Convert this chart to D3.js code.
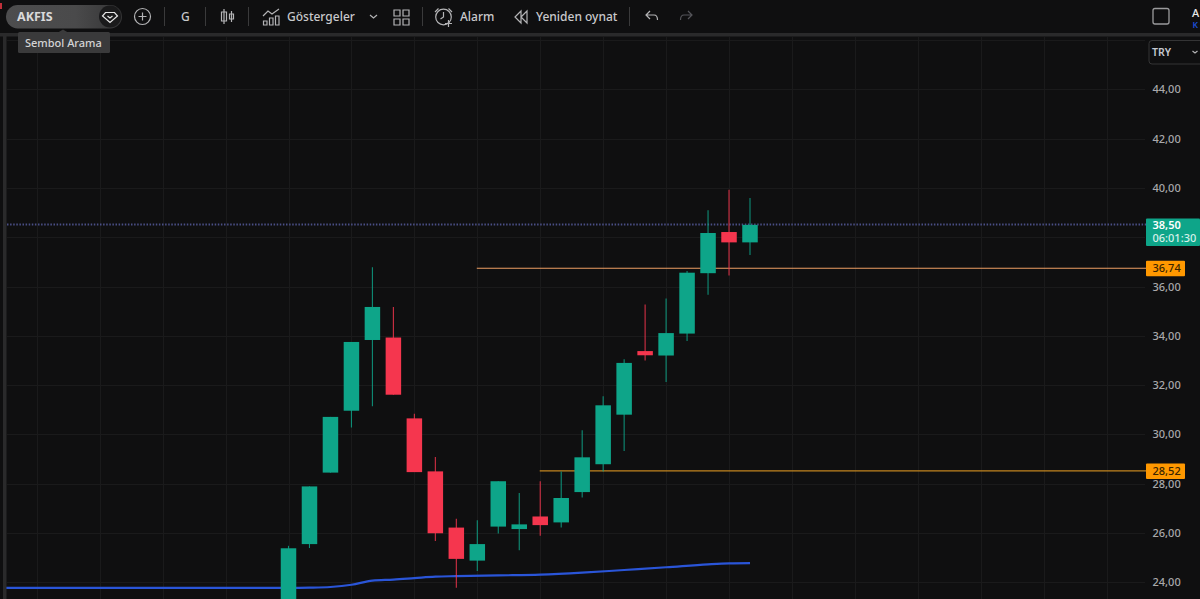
<!DOCTYPE html>
<html><head><meta charset="utf-8">
<script src="https://cdnjs.cloudflare.com/ajax/libs/d3/7.8.5/d3.min.js"></script>
<style>
html,body{margin:0;padding:0;background:#0f0f10;overflow:hidden}
svg{display:block}
text{font-family:"Noto Sans",sans-serif}
</style></head><body><svg id="c" width="1200" height="599"></svg>
<script>
const opens  =[23.00,25.55,28.45,30.96,33.83,33.93,30.65,28.50,26.22,24.88,26.26,26.16,26.67,26.43,27.66,28.79,30.80,33.38,33.20,34.09,36.54,38.21,37.79];
const closes =[25.38,27.89,30.71,33.75,35.17,31.61,28.47,25.99,24.95,25.55,28.10,26.35,26.32,27.42,29.07,31.18,32.90,33.21,34.11,36.56,38.17,37.79,38.50];
const highs  =[25.48,27.89,30.71,33.75,36.78,35.17,30.84,29.08,26.58,26.52,28.10,27.62,28.10,28.50,30.17,31.55,33.05,35.27,35.51,36.63,39.09,39.93,39.59];
const lows   =[22.90,25.39,28.45,30.28,31.14,31.61,28.47,25.68,23.78,24.46,25.98,25.30,25.89,26.22,27.44,28.50,29.33,33.00,32.13,33.79,35.67,36.45,37.28];
const maIndex=[-13.5,-10,-6,-2,0,1,2,3,4,5,6,7,8,10,12,14,16,18,20,21,22];
const maValues=[23.77,23.77,23.77,23.77,23.77,23.78,23.81,23.90,24.07,24.11,24.17,24.23,24.25,24.28,24.31,24.39,24.50,24.61,24.73,24.77,24.78];
const gridPrices=[46,44,42,40,38,36,34,32,30,28,26,24];
const axisPrices=[44,42,40,36,34,32,30,28,26,24];
const gridIndex=[-12,-9,-6,-3,0,3,6,9,12,15,18,21,24,27,30,33,36,39];
const levels=[{price:36.74,start:9,label:"36,74",color:"#ee9f63"},{price:28.52,start:12,label:"28,52",color:"#c2851f"}];
const lastPrice=38.50, lastLabel="38,50", countdown="06:01:30";
const menuItems=[["G",181],["Göstergeler",287],["Alarm",460],["Yeniden oynat",536]];

const UP="#0ea589",DOWN="#f5364e",TXT="#c9c9cc";
const svg=d3.select("#c");
const x=d3.scaleLinear().domain([0,22]).range([288.5,750]);
const y=d3.scaleLinear().domain([24,44]).range([582.3,89.3]);
const bw=15.5;
svg.append("rect").attr("width",1200).attr("height",599).attr("fill","#0f0f10");

// grid
const plot=svg.append("g");
plot.selectAll(".h").data(gridPrices).join("line").attr("x1",7).attr("x2",1145)
 .attr("y1",d=>Math.round(y(d))+.5).attr("y2",d=>Math.round(y(d))+.5).attr("stroke","#1a1a1b");
plot.selectAll(".v").data(gridIndex).join("line").attr("y1",37).attr("y2",599)
 .attr("x1",d=>Math.round(x(d))+.5).attr("x2",d=>Math.round(x(d))+.5).attr("stroke","#1a1a1b");

// last price dotted
plot.append("line").attr("x1",7).attr("x2",1146).attr("y1",y(lastPrice)-.3).attr("y2",y(lastPrice)-.3)
 .attr("stroke","#4a4f86").attr("stroke-width",2).attr("stroke-dasharray","1.5 1.6");

// levels
plot.selectAll(".lv").data(levels).join("line").attr("x1",d=>x(d.start)-.5).attr("x2",1146)
 .attr("y1",d=>y(d.price)).attr("y2",d=>y(d.price)).attr("stroke",d=>d.color).attr("stroke-width",1.2);

// moving average
const maPts=maIndex.map((d,i)=>[x(d),y(maValues[i])]);
const line=d3.line().curve(d3.curveMonotoneX);

// candles
const candles=opens.map((o,i)=>({i,o,c:closes[i],h:highs[i],l:lows[i]}));
const g=plot.selectAll(".cd").data(candles).join("g");
const col=d=>d.c>=d.o?UP:DOWN;
g.append("line").attr("x1",d=>x(d.i)).attr("x2",d=>x(d.i)).attr("y1",d=>y(d.h)).attr("y2",d=>y(d.l))
 .attr("stroke",col).attr("stroke-width",1.1).attr("opacity",.85);
g.append("rect").attr("x",d=>x(d.i)-bw/2).attr("width",bw)
 .attr("y",d=>y(Math.max(d.o,d.c))).attr("height",d=>Math.abs(y(d.o)-y(d.c))).attr("fill",col);
plot.insert("path","g").attr("d",line(maPts)).attr("fill","none").attr("stroke","#2a55d8").attr("stroke-width",2.2);

// right axis
const axis=d3.axisRight(y).tickValues(axisPrices).tickSize(0).tickPadding(0)
 .tickFormat(d=>d3.format(".2f")(d).replace(".",","));
const ag=svg.append("g").attr("transform","translate(1152.5,0)").call(axis);
ag.select(".domain").remove();
ag.selectAll("text").attr("fill","#a9a9ab").attr("font-size",11).attr("font-family","'Noto Sans',sans-serif").attr("font-weight",500);

// price labels
const lab=svg.append("g");
lab.append("rect").attr("x",1146).attr("y",y(lastPrice)-6.5).attr("width",54).attr("height",27.5).attr("fill",UP).attr("rx",1);
lab.append("text").attr("x",1152.5).attr("y",y(lastPrice)+4.5).attr("fill","#fff").attr("font-size",11).attr("font-weight",600).text(lastLabel);
lab.append("text").attr("x",1152.5).attr("y",y(lastPrice)+17.5).attr("fill","#d6f0ea").attr("font-size",11).attr("font-weight",500).text(countdown);
levels.forEach(l=>{
 lab.append("rect").attr("x",1146).attr("y",y(l.price)-7.5).attr("width",39).attr("height",15.5).attr("fill","#ff9800").attr("rx",1);
 lab.append("text").attr("x",1152.5).attr("y",y(l.price)+4).attr("fill","#3a2500").attr("font-size",11).attr("font-weight",500).text(l.label);
});

// chrome
const ch=svg.append("g");
ch.append("rect").attr("width",1200).attr("height",33).attr("fill","#0f0f10");
ch.append("rect").attr("y",33).attr("width",1200).attr("height",3.5).attr("fill","#2a2a2b");
ch.append("rect").attr("x",3).attr("y",36).attr("width",3.5).attr("height",563).attr("fill","#2a2a2b");
ch.append("rect").attr("x",0).attr("y",3).attr("width",2).attr("height",6).attr("fill","#c0303a");
const defs=svg.append("defs");
const gr=defs.append("linearGradient").attr("id","pill");
gr.append("stop").attr("offset","0").attr("stop-color","#4d4d4e");
gr.append("stop").attr("offset","0.6").attr("stop-color","#4a4a4b");
gr.append("stop").attr("offset","1").attr("stop-color","#343435");
ch.append("rect").attr("x",6).attr("y",5).attr("width",116).attr("height",23.5).attr("rx",11.7).attr("fill","url(#pill)");
ch.append("circle").attr("cx",110).attr("cy",16.5).attr("r",11).attr("fill","#1a1a1b");
ch.append("text").attr("x",17).attr("y",21).attr("fill","#d9d9da").attr("font-size",12.5).attr("font-weight",700).text("AKFIS");
const ic="#b4b4b6";
const st=s=>s.attr("fill","none").attr("stroke",ic).attr("stroke-width",1.2);
st(ch.append("path")).attr("stroke","#e6e6e6").attr("d","M105.5 12.5h9l3 3.5-7.5 6.5-7.5-6.5zM107.5 16l2.5 2 2.5-2");
st(ch.append("circle")).attr("cx",142.5).attr("cy",16.5).attr("r",8);
st(ch.append("path")).attr("d","M142.5 12.5v8M138.5 16.5h8");
[164.5,205.5,248.5,422.5,629.5].forEach(v=>ch.append("line").attr("x1",v).attr("x2",v).attr("y1",7).attr("y2",26).attr("stroke","#3a3a3b"));
menuItems.forEach(([t,xp])=>ch.append("text").attr("x",xp).attr("y",21).attr("fill",TXT).attr("font-size",12).attr("font-weight",500).text(t));
st(ch.append("path")).attr("d","M224 9v15M221.5 12h5v9h-5zM231.5 11v11M229.5 14h4v5h-4z");
st(ch.append("path")).attr("d","M263 16l5-5 4 3 7-5M263.5 25v-4h3.5v4zM269.5 25v-7h3.5v7zM275.5 25v-9h3.5v9z");
st(ch.append("path")).attr("d","M370 15l3.5 3 3.5-3");
st(ch.append("path")).attr("d","M394 10h6v6h-6zM403 10h6v6h-6zM394 19h6v6h-6zM403 19h6v6h-6z");
st(ch.append("circle")).attr("cx",443.5).attr("cy",17).attr("r",7.8);
st(ch.append("path")).attr("d","M443.5 12v5l-3 2M435 12l3.5-3.5M452 12l-3.5-3.5M445 23.5h7M448.5 20v7");
st(ch.append("path")).attr("d","M521 11l-6 6 6 6zM527 11l-6 6 6 6z");
st(ch.append("path")).attr("d","M650 11l-4 4 4 4M646 15h8q3.5 0 3.5 5");
st(ch.append("path")).attr("stroke","#55555a").attr("d","M688 11l4 4-4 4M692 15h-8q-3.5 0-3.5 5");
ch.append("rect").attr("x",1153).attr("y",8.5).attr("width",16).attr("height",15.5).attr("rx",2).attr("fill","none").attr("stroke","#9a9a9c").attr("stroke-width",1.3);
ch.append("text").attr("x",1192).attr("y",17).attr("fill","#e8e8e8").attr("font-size",11).attr("font-weight",500).text("A");
ch.append("text").attr("x",1192.5).attr("y",28).attr("fill","#1d4ed8").attr("font-size",8.5).attr("font-weight",600).text("K");
ch.append("path").attr("d","M58 32.5l5-3 5 3z").attr("fill","#3a3a3b");
ch.append("rect").attr("x",18).attr("y",32).attr("width",92).attr("height",21).attr("rx",1.5).attr("fill","#3a3a3b");
ch.append("text").attr("x",25).attr("y",47).attr("fill","#d4d4d5").attr("font-size",11).attr("font-weight",500).text("Sembol Arama");
ch.append("rect").attr("x",1149).attr("y",40.5).attr("width",60).attr("height",23.5).attr("rx",3).attr("fill","#0f0f10").attr("stroke","#343435");
ch.append("text").attr("x",1152).attr("y",56).attr("fill","#c4c8d0").attr("font-size",10.5).attr("font-weight",600).text("TRY");
st(ch.append("path")).attr("d","M1192.5 51l2.5 2 2.5-2");
</script></body></html>
